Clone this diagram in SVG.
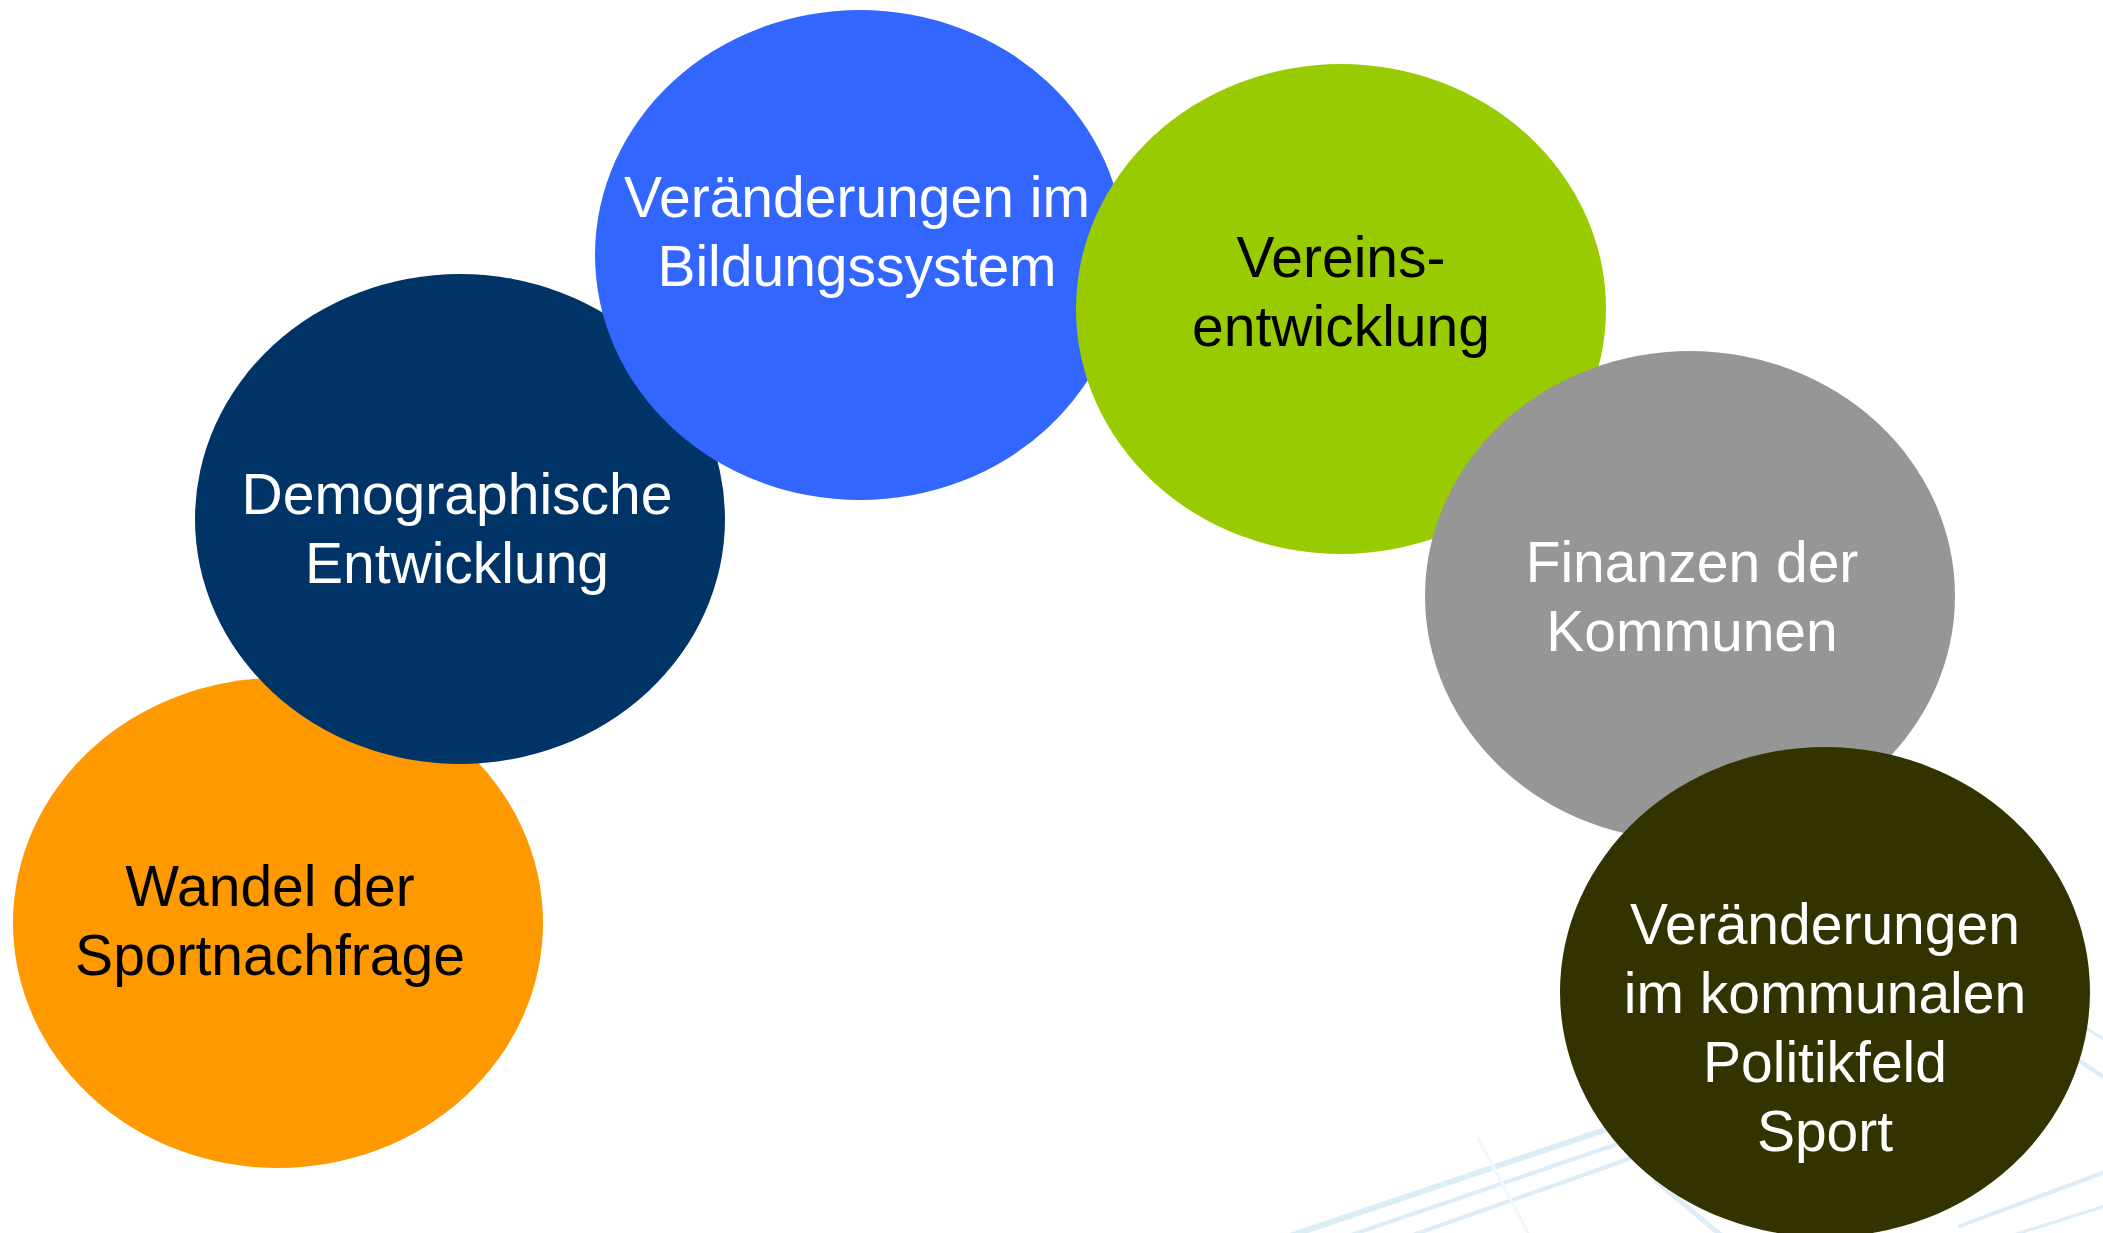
<svg xmlns="http://www.w3.org/2000/svg" width="2103" height="1233" viewBox="0 0 2103 1233">
  <style>
    .lbl { font-family: "Liberation Sans", Arial, sans-serif; font-size: 57px; text-anchor: middle; }
    .w { fill: #FFFFFF; }
    .k { fill: #000000; }
    .deco { fill: none; stroke: #DCEDF8; stroke-linecap: round; }
    .faint { stroke: #F1F7FC; }
  </style>
  <rect width="2103" height="1233" fill="#FFFFFF"/>
  <g id="background-lines">
    <path class="deco" d="M1290,1236 L1640,1118" stroke-width="6"/>
    <path class="deco" d="M1348,1236 L1650,1133" stroke-width="4"/>
    <path class="deco" d="M1410,1236 L1660,1148" stroke-width="4"/>
    <path class="deco faint" d="M1478,1138 L1530,1236" stroke-width="3"/>
    <path class="deco" d="M1655,1180 L1722,1236" stroke-width="5"/>
    <path class="deco" d="M2060,1048 L2105,1078" stroke-width="4"/>
    <path class="deco" d="M2070,1018 L2105,1040" stroke-width="3"/>
    <path class="deco" d="M1960,1226 L2105,1172" stroke-width="4"/>
    <path class="deco" d="M2010,1236 L2105,1206" stroke-width="3"/>
  </g>
  <g id="connectors"></g>
  <g id="node-sportnachfrage">
    <ellipse cx="278" cy="923" rx="265" ry="245" fill="#FF9900"/>
    <text class="lbl k" x="270" y="906">Wandel der</text>
    <text class="lbl k" x="270" y="975">Sportnachfrage</text>
  </g>
  <g id="node-demographie">
    <ellipse cx="460" cy="519" rx="265" ry="245" fill="#003366"/>
    <text class="lbl w" x="457" y="514">Demographische</text>
    <text class="lbl w" x="457" y="583">Entwicklung</text>
  </g>
  <g id="node-bildung">
    <ellipse cx="860" cy="255" rx="265" ry="245" fill="#3366FF"/>
    <text class="lbl w" x="857" y="217">Veränderungen im</text>
    <text class="lbl w" x="857" y="286">Bildungssystem</text>
  </g>
  <g id="node-verein">
    <ellipse cx="1341" cy="309" rx="265" ry="245" fill="#99CC00"/>
    <text class="lbl k" x="1341" y="277">Vereins-</text>
    <text class="lbl k" x="1341" y="346">entwicklung</text>
  </g>
  <g id="node-finanzen">
    <ellipse cx="1690" cy="596" rx="265" ry="245" fill="#969696"/>
    <text class="lbl w" x="1692" y="582">Finanzen der</text>
    <text class="lbl w" x="1692" y="651">Kommunen</text>
  </g>
  <g id="node-politikfeld">
    <ellipse cx="1825" cy="992" rx="265" ry="245" fill="#333300"/>
    <text class="lbl w" x="1825" y="944">Veränderungen</text>
    <text class="lbl w" x="1825" y="1013">im kommunalen</text>
    <text class="lbl w" x="1825" y="1082">Politikfeld</text>
    <text class="lbl w" x="1825" y="1151">Sport</text>
  </g>
</svg>
